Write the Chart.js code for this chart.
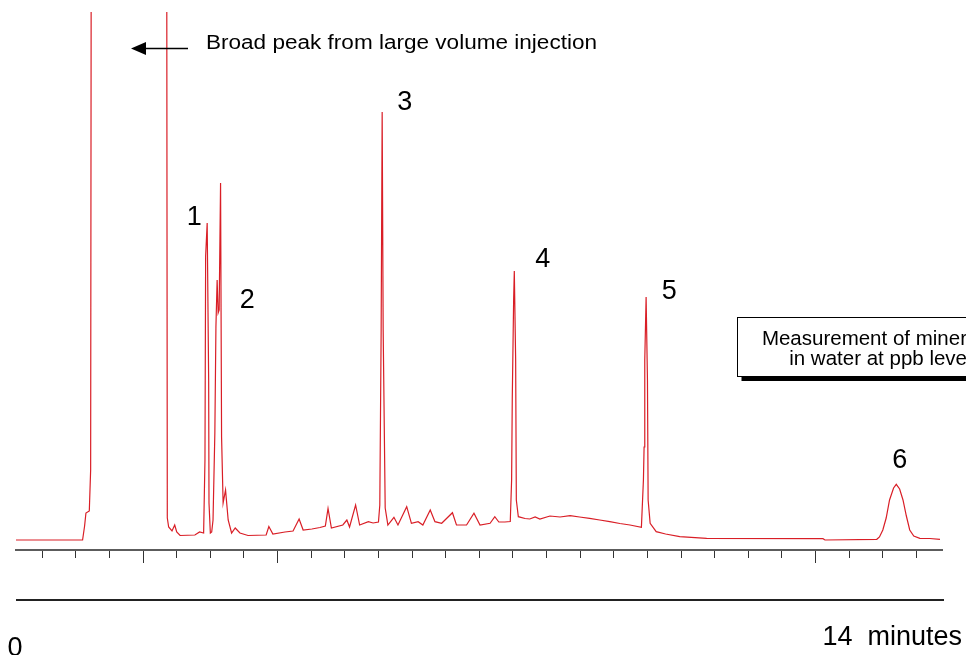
<!DOCTYPE html>
<html>
<head>
<meta charset="utf-8">
<title>Chromatogram</title>
<script src="https://cdn.jsdelivr.net/npm/chart.js@4.4.1/dist/chart.umd.min.js"></script>
<style>
  html, body { margin: 0; padding: 0; background: #fff; }
  #wrap { width: 966px; height: 655px; }
</style>
</head>
<body>
<div id="wrap"><canvas id="chart" width="966" height="655"></canvas></div>
<script>
// retention time (min) and detector signal (arbitrary units)
const times = [
  0.11, 1.10, 1.13, 1.15, 1.20, 1.22, 1.23, 1.80, 2.35, 2.36,
  2.38, 2.43, 2.47, 2.50, 2.55, 2.77, 2.84, 2.90, 2.92, 2.93,
  2.953, 2.975, 2.98, 3.00, 3.02, 3.04, 3.067, 3.083, 3.101, 3.116,
  3.131, 3.152, 3.167, 3.19, 3.226, 3.265, 3.316, 3.37, 3.44, 3.56,
  3.83, 3.87, 3.93, 4.11, 4.23, 4.32, 4.38, 4.51, 4.63, 4.71,
  4.75, 4.80, 4.97, 5.03, 5.07, 5.16, 5.22, 5.35, 5.42, 5.50,
  5.52, 5.54, 5.555, 5.57, 5.60, 5.64, 5.73, 5.79, 5.92, 5.99,
  6.09, 6.16, 6.27, 6.34, 6.44, 6.60, 6.66, 6.81, 6.92, 7.01,
  7.16, 7.23, 7.29, 7.38, 7.46, 7.48, 7.49, 7.51, 7.52, 7.54,
  7.55, 7.58, 7.68, 7.75, 7.83, 7.90, 8.05, 8.20, 8.35, 8.49,
  8.64, 8.79, 8.94, 9.09, 9.24, 9.41, 9.44, 9.45, 9.46, 9.48,
  9.50, 9.51, 9.54, 9.63, 9.77, 9.98, 10.38, 12.11, 12.14, 12.91,
  12.95, 13.00, 13.05, 13.10, 13.16, 13.20, 13.25, 13.30, 13.35, 13.40,
  13.46, 13.55, 13.70, 13.85
]
const signal = [
  10, 10, 24, 37, 39, 80, 700, 700, 700, 32,
  23, 19, 25, 18, 14.5, 15, 18, 17, 90, 294,
  327, 170, 47, 17, 18, 30, 117, 223, 270, 237,
  240, 367, 113, 47, 60, 30, 17, 22, 17, 14.5,
  15, 23.5, 16, 18, 19, 31, 20, 21, 22.5, 24,
  41.5, 22, 25, 30, 23, 45, 25, 28.3, 27, 28,
  45, 220, 438, 220, 42, 25, 32.7, 25, 43.3, 26.7,
  28.3, 25, 40, 28.3, 26.7, 37.3, 25, 25, 36.7, 25,
  26.7, 33.3, 28, 28, 28.5, 70, 153, 250, 279, 190,
  50, 33.3, 31.5, 31, 33, 31, 34, 33, 34.3, 33,
  31.7, 30, 28.3, 26.5, 25, 22.7, 70, 103, 190, 253,
  170, 50, 26.7, 18.3, 16, 13.3, 11.7, 11.3, 10, 10.7,
  13, 20, 32, 50, 62, 65.7, 61, 50, 34, 20,
  14, 11.7, 11.5, 10.7
]

// axis tick marks (min), the longer ones, and the end labels
const tickMinutes = [0.5, 1, 1.5, 2, 2.5, 3, 3.5, 4, 4.5, 5, 5.5, 6, 6.5, 7, 7.5,
  8, 8.5, 9, 9.5, 10, 10.5, 11, 11.5, 12, 12.5, 13, 13.5]
const longTickMinutes = [2, 4, 12]

// peak numbers and where they sit (time, signal at text baseline)
const peakNames = ['1', '2', '3', '4', '5', '6']
const peakLabelTimes = [2.762, 3.55, 5.892, 7.944, 9.825, 13.252]
const peakLabelSignals = [325, 242, 440.5, 283, 251.5, 82]

const startLabel = '0'
const endLabel = '14  minutes'
const injectionNote = 'Broad peak from large volume injection'
const boxLines = ['Measurement of mineral oil', 'in water at ppb levels']

const FONT = '"Liberation Sans", Arial, sans-serif'

const annotations = {
  id: 'annotations',
  afterDraw (chart) {
    const { ctx, chartArea } = chart
    const x = chart.scales.x
    const y = chart.scales.y
    const bottom = chartArea.bottom
    ctx.save()

    // longer tick marks, snapped like chart.js snaps its own
    ctx.strokeStyle = '#333'
    ctx.lineWidth = 1
    longTickMinutes.forEach(v => {
      const px = Math.round(x.getPixelForValue(v) - 0.5) + 0.5
      ctx.beginPath()
      ctx.moveTo(px, bottom + 6)
      ctx.lineTo(px, bottom + 13)
      ctx.stroke()
    })

    // second rule under the axis
    ctx.strokeStyle = '#222'
    ctx.lineWidth = 2
    ctx.beginPath()
    ctx.moveTo(chartArea.left, bottom + 50)
    ctx.lineTo(chartArea.right + 2, bottom + 50)
    ctx.stroke()

    // end labels
    ctx.fillStyle = '#000'
    ctx.font = '27px ' + FONT
    ctx.textBaseline = 'alphabetic'
    ctx.textAlign = 'center'
    ctx.fillText(startLabel, chartArea.left - 1, bottom + 106)
    ctx.textAlign = 'right'
    ctx.fillText(endLabel, chartArea.right + 20, bottom + 95)

    // peak numbers
    ctx.textAlign = 'center'
    peakNames.forEach((name, i) => {
      ctx.fillText(name, x.getPixelForValue(peakLabelTimes[i]), y.getPixelForValue(peakLabelSignals[i]))
    })

    // arrow and note about the injection peak
    const ay = 48.5
    ctx.strokeStyle = '#000'
    ctx.lineWidth = 1.3
    ctx.beginPath()
    ctx.moveTo(144, ay)
    ctx.lineTo(188, ay)
    ctx.stroke()
    ctx.beginPath()
    ctx.moveTo(131, ay)
    ctx.lineTo(146, ay - 6.5)
    ctx.lineTo(146, ay + 6.5)
    ctx.closePath()
    ctx.fill()

    ctx.font = '20px ' + FONT
    ctx.textAlign = 'left'
    const w = ctx.measureText(injectionNote).width
    ctx.save()
    ctx.translate(206, 49)
    ctx.scale(391 / w, 1)
    ctx.fillText(injectionNote, 0, 0)
    ctx.restore()

    // boxed caption with drop shadow
    ctx.fillStyle = '#000'
    ctx.fillRect(741.5, 321.5, 320, 59.5)
    ctx.fillStyle = '#fff'
    ctx.fillRect(737.5, 317.5, 320, 59)
    ctx.strokeStyle = '#000'
    ctx.lineWidth = 1
    ctx.strokeRect(737.5, 317.5, 320, 59)
    ctx.fillStyle = '#000'
    ctx.font = '20.5px ' + FONT
    ctx.textAlign = 'center'
    ctx.fillText(boxLines[0], 885.5, 345)
    ctx.fillText(boxLines[1], 885.5, 364.5)

    ctx.restore()
  }
}

const points = times.map((t, i) => ({ x: t, y: signal[i] }))

const chart = new Chart(document.getElementById('chart').getContext('2d'), {
  type: 'line',
  data: {
    datasets: [{
      label: 'Signal',
      data: points,
      borderColor: '#d91e26',
      borderWidth: 1.2,
      pointRadius: 0,
      tension: 0,
      fill: false
    }]
  },
  options: {
    responsive: false,
    devicePixelRatio: 1,
    animation: false,
    layout: { padding: { left: 16, right: 24, top: 12, bottom: 97 } },
    plugins: {
      legend: { display: false },
      tooltip: { enabled: false }
    },
    scales: {
      x: {
        type: 'linear',
        min: 0.11,
        max: 13.88,
        afterBuildTicks: scale => {
          scale.ticks = tickMinutes.map(v => ({ value: v }))
        },
        ticks: { display: false },
        grid: {
          drawOnChartArea: false,
          drawTicks: true,
          tickLength: 8,
          tickColor: '#333',
          tickWidth: 1
        },
        border: { display: true, color: '#5c5c5c', width: 2 }
      },
      y: {
        display: false,
        min: 0,
        max: 538
      }
    }
  },
  plugins: [annotations]
})
</script>
</body>
</html>
